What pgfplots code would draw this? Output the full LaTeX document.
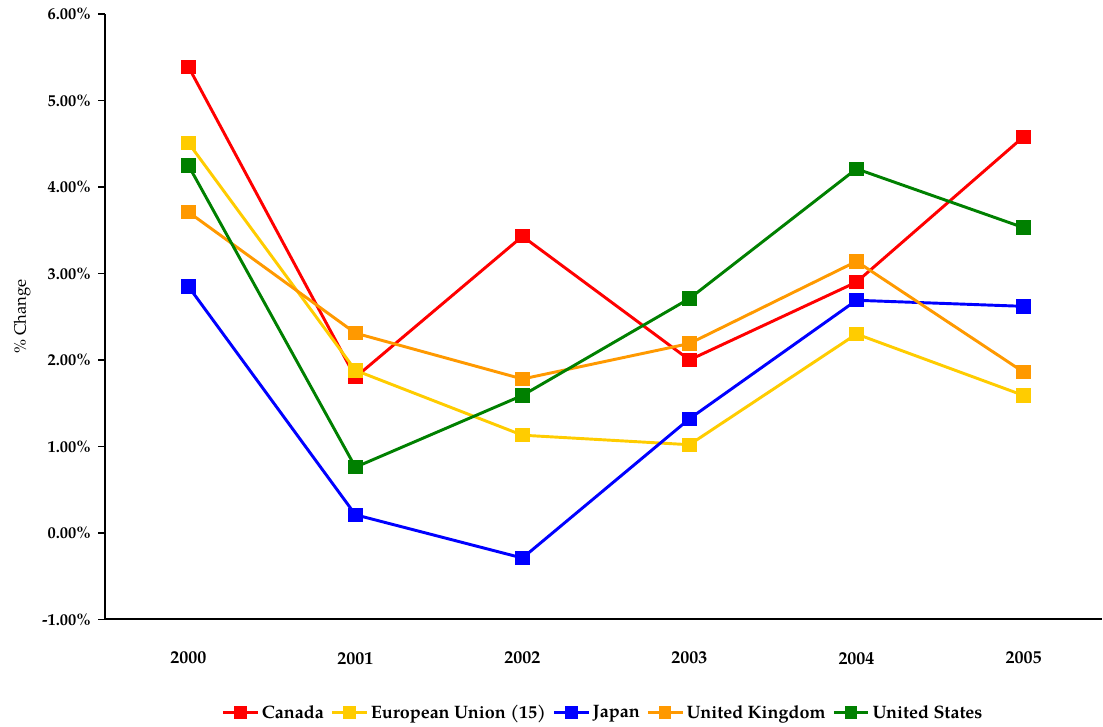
\documentclass[border=0pt]{standalone}
\usepackage{fontspec}
\setmainfont{TeX Gyre Pagella}
\usepackage{pgfplots}
\pgfplotsset{compat=1.18}
\definecolor{cCan}{HTML}{FF0000}
\definecolor{cEU}{HTML}{FFCC00}
\definecolor{cJap}{HTML}{0000FF}
\definecolor{cUK}{HTML}{FF9900}
\definecolor{cUS}{HTML}{008000}
\begin{document}
\begin{tikzpicture}
\begin{axis}[
  scale only axis,
  width=748.5pt, height=454.5pt,
  xmin=-0.5, xmax=5.47,
  ymin=-1, ymax=6,
  axis x line=bottom, axis y line=left,
  axis line style={-, line width=1.5pt},
  xtick={0,1,2,3,4,5},
  xticklabels={2000,2001,2002,2003,2004,2005},
  x tick style={draw=none},
  xticklabel style={font=\bfseries\fontsize{13.5}{15}\selectfont, yshift=-16pt},
  ytick={-1,0,1,2,3,4,5,6},
  yticklabels={-1.00\%,0.00\%,1.00\%,2.00\%,3.00\%,4.00\%,5.00\%,6.00\%},
  yticklabel style={font=\bfseries\fontsize{12.3}{14}\selectfont, xshift=-2pt},
  tick align=outside,
  y tick style={line width=1.2pt, black},
  major tick length=5pt,
  ylabel={\% Change},
  ylabel style={font=\fontsize{12.5}{14}\selectfont, at={(axis description cs:-0.083,0.5)}, anchor=center},
  legend columns=5,
  legend style={draw=none, at={(0.5,-0.154)}, anchor=center, font=\bfseries\fontsize{13.5}{15}\selectfont, /tikz/every even column/.append style={column sep=3pt}, inner sep=0pt},
  legend image code/.code={\draw[#1] (0pt,0pt) -- (26pt,0pt); \draw[#1,mark repeat=1,mark size=3.6pt] plot coordinates {(13pt,0pt)};},
  every axis plot/.append style={line width=2.2pt, mark=square*, mark size=4.3pt},
  clip=false,
]
\addplot[color=cCan] coordinates {(0,5.39) (1,1.80) (2,3.43) (3,2.00) (4,2.90) (5,4.58)};
\addlegendentry{Canada}
\addplot[color=cEU] coordinates {(0,4.51) (1,1.88) (2,1.13) (3,1.02) (4,2.30) (5,1.59)};
\addlegendentry{European Union (15)}
\addplot[color=cJap] coordinates {(0,2.85) (1,0.21) (2,-0.29) (3,1.32) (4,2.69) (5,2.62)};
\addlegendentry{Japan}
\addplot[color=cUK] coordinates {(0,3.71) (1,2.31) (2,1.78) (3,2.19) (4,3.14) (5,1.86)};
\addlegendentry{United Kingdom}
\addplot[color=cUS] coordinates {(0,4.25) (1,0.76) (2,1.59) (3,2.71) (4,4.21) (5,3.53)};
\addlegendentry{United States}
\end{axis}
\path ([xshift=-78.75pt,yshift=-80.25pt]current axis.south west) rectangle ([yshift=10.5pt]current axis.north east);
\end{tikzpicture}
\end{document}
